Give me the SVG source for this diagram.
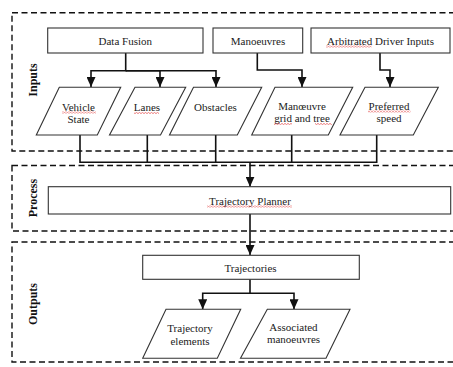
<svg xmlns="http://www.w3.org/2000/svg" width="453" height="367" viewBox="0 0 453 367">
<style>
.region{fill:none;stroke:#111;stroke-width:1.4;stroke-dasharray:6 3.5}
.box{fill:#fff;stroke:#333;stroke-width:1.1}
.t{font-family:'Liberation Serif','Times New Roman','DejaVu Serif',serif;font-size:11px;fill:#222;text-anchor:middle}
.lbl{font-family:'Liberation Serif','Times New Roman','DejaVu Serif',serif;font-size:12px;font-weight:bold;fill:#111;text-anchor:middle}
.c{fill:none;stroke:#111;stroke-width:1.6}
.sq{fill:url(#wave)}
</style>
<defs>
<marker id="ah" markerUnits="userSpaceOnUse" markerWidth="10" markerHeight="9" refX="10" refY="4.5" orient="auto">
<path d="M0,0 L10,4.5 L0,9 z" fill="#111"/>
</marker>
<pattern id="wave" width="3" height="2" patternUnits="userSpaceOnUse">
<path d="M0,1.6 L1.5,0.4 L3,1.6" fill="none" stroke="#d22" stroke-width="0.6"/>
</pattern>
</defs>

<g id="regions">
<rect class="region" x="12" y="12.7" width="460" height="138.3"/>
<rect class="region" x="12" y="165.5" width="460" height="65.5"/>
<rect class="region" x="12" y="242" width="460" height="120"/>
<text class="lbl" font-family="Liberation Serif, serif" transform="translate(37,80) rotate(-90)">Inputs</text>
<text class="lbl" font-family="Liberation Serif, serif" transform="translate(37,198) rotate(-90)">Process</text>
<text class="lbl" font-family="Liberation Serif, serif" transform="translate(37,304) rotate(-90)">Outputs</text>
</g>

<g id="connectors">
<path class="c" d="M125.7,53 V70.7 H91 V87" marker-end="url(#ah)"/>
<path class="c" d="M125.7,70.7 H160 V87" marker-end="url(#ah)"/>
<path class="c" d="M125.7,70.7 H216 V87" marker-end="url(#ah)"/>
<path class="c" d="M257.3,53 V70 H302 V87" marker-end="url(#ah)"/>
<path class="c" d="M380,53 V70 H390 V87" marker-end="url(#ah)"/>
<path class="c" d="M80,135 V162.3 H376.7 V135 M147.3,135 V162.3 M215.7,135 V162.3 M291.7,135 V162.3"/>
<path class="c" d="M250,162.3 V186.7" marker-end="url(#ah)"/>
<path class="c" d="M250,214 V255" marker-end="url(#ah)"/>
<path class="c" d="M250,279.3 V293.3 H202.7 V309.3" marker-end="url(#ah)"/>
<path class="c" d="M250,293.3 H294 V309.3" marker-end="url(#ah)"/>
</g>

<g id="data-fusion">
<rect class="box" x="47.7" y="28" width="155.3" height="25"/>
<text class="t" x="125.3" y="44.5">Data Fusion</text>
</g>
<g id="manoeuvres">
<rect class="box" x="213" y="28" width="89.7" height="25"/>
<text class="t" x="258" y="44.5">Manoeuvres</text>
</g>
<g id="arbitrated-driver-inputs">
<rect class="box" x="311" y="28" width="139" height="25"/>
<text class="t" x="380.5" y="44.5">Arbitrated Driver Inputs</text>
<rect class="sq" x="326" y="45.5" width="45.5" height="2"/>
</g>

<g id="vehicle-state">
<polygon class="box" points="59.3,87.3 120.7,87.3 97.3,135 36.3,135"/>
<text class="t" x="78.5" y="110.5">Vehicle</text>
<text class="t" x="78.5" y="122.5">State</text>
<rect class="sq" x="62" y="111.5" width="34" height="2"/>
</g>
<g id="lanes">
<polygon class="box" points="135,87.3 185.7,87.3 160.5,135 109.5,135"/>
<text class="t" x="147" y="111">Lanes</text>
<rect class="sq" x="134" y="112" width="25" height="2"/>
</g>
<g id="obstacles">
<polygon class="box" points="193.5,87.3 261.7,87.3 237.3,135 169.5,135"/>
<text class="t" x="215.5" y="111">Obstacles</text>
</g>
<g id="manoeuvre-grid">
<polygon class="box" points="275,87.3 352.7,87.3 328.3,135 251.7,135"/>
<text class="t" x="302" y="109.5">Manœuvre</text>
<text class="t" x="302" y="122">grid and tree</text>
<rect class="sq" x="274" y="123" width="18" height="2"/>
<rect class="sq" x="315" y="123" width="17" height="2"/>
</g>
<g id="preferred-speed">
<polygon class="box" points="365,87.3 438.3,87.3 413.3,135 340,135"/>
<text class="t" x="389" y="109.5">Preferred</text>
<text class="t" x="389" y="122">speed</text>
<rect class="sq" x="368" y="110.5" width="42.5" height="2"/>
</g>

<g id="trajectory-planner">
<rect class="box" x="48.3" y="186.7" width="402.4" height="27.3"/>
<text class="t" x="250" y="204.5">Trajectory Planner</text>
<rect class="sq" x="207" y="205.5" width="85" height="2"/>
</g>

<g id="trajectories">
<rect class="box" x="142.7" y="255.3" width="216.6" height="24"/>
<text class="t" x="250.5" y="271.5">Trajectories</text>
</g>
<g id="trajectory-elements">
<polygon class="box" points="166,309.3 240.7,309.3 217.3,358.3 142.7,358.3"/>
<text class="t" x="190" y="332">Trajectory</text>
<text class="t" x="190" y="344.5">elements</text>
</g>
<g id="associated-manoeuvres">
<polygon class="box" points="267.3,309.3 350,309.3 326,358.3 240.5,358.3"/>
<text class="t" x="293.5" y="330.5">Associated</text>
<text class="t" x="293.5" y="343">manoeuvres</text>
</g>
</svg>
